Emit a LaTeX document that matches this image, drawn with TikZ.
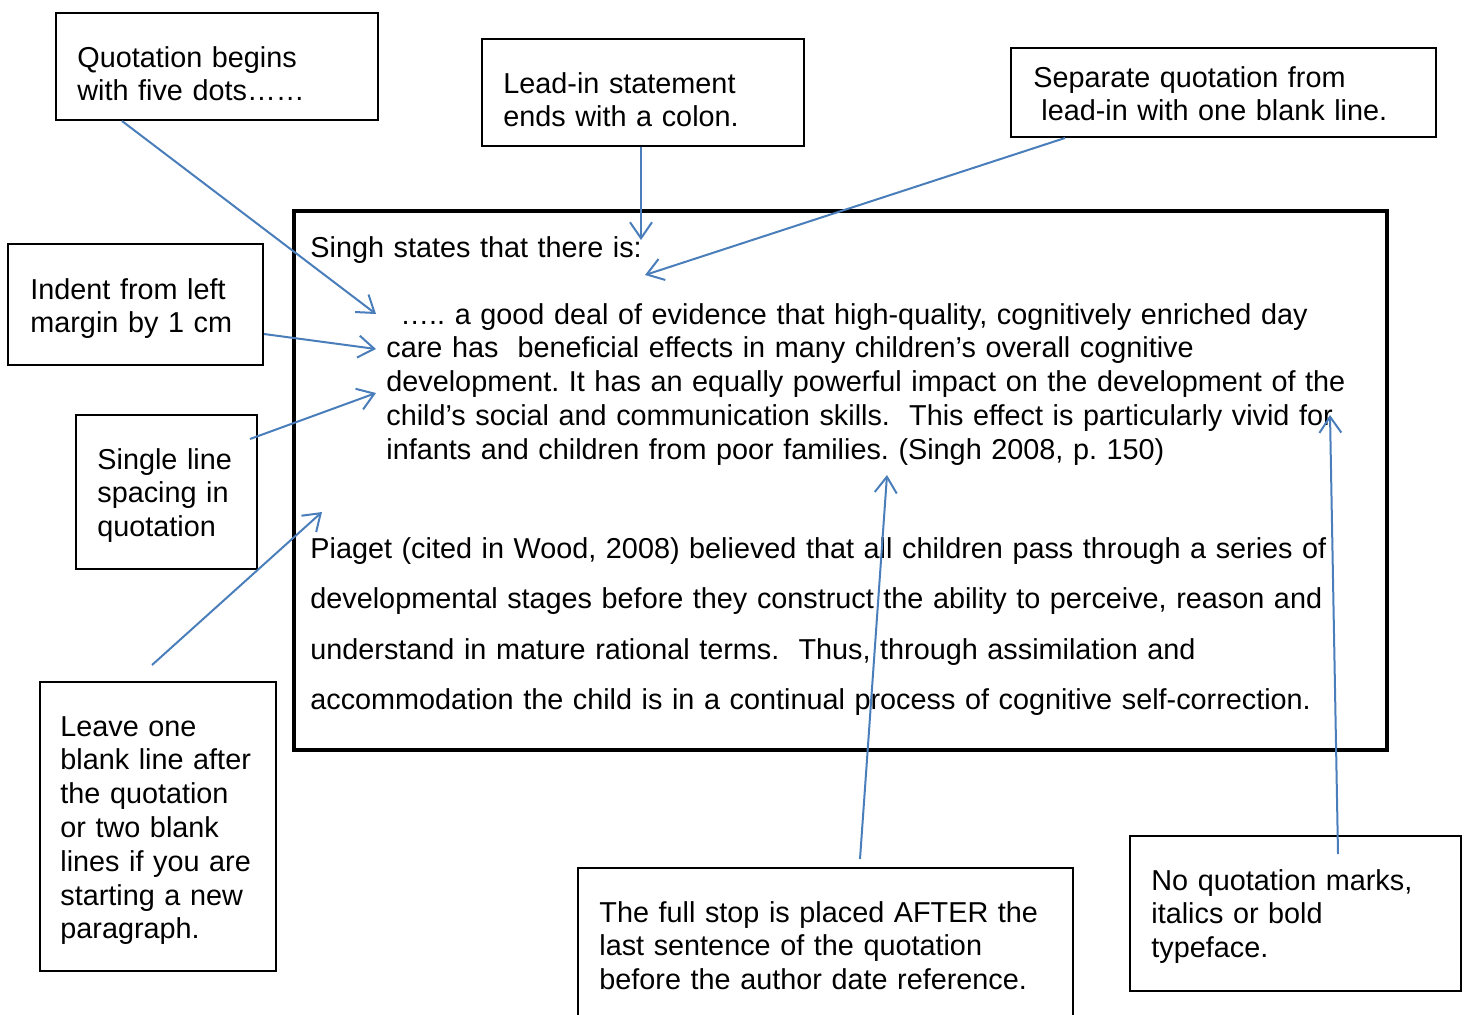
\documentclass[tikz,border=0pt]{standalone}
\usepackage{fontspec}
\setmainfont{Liberation Sans}
\usetikzlibrary{arrows.meta,calc}
\definecolor{arrowblue}{HTML}{4A7EBB}
\frenchspacing
\begin{document}
\frenchspacing
\begin{tikzpicture}[x=0.5pt,y=-0.5pt,
  box/.style={draw=black, line width=1pt, rectangle, inner sep=0pt},
  txt/.style={anchor=base west, inner sep=0pt, align=left, text width=300pt,
    font=\fontsize{14.4pt}{16.9pt}\selectfont},
  conn/.style={draw=arrowblue, line width=1pt, -{Straight Barb[length=8pt,width=11pt]}}]
\useasboundingbox (0,0) rectangle (1465,1014);

% annotation boxes
\node[box, minimum width=161pt, minimum height=53.5pt] (bA) at (217,66.5) {};
\node[txt] (tA) at (77,67) {Quotation begins\\with five dots……};

\node[box, minimum width=161pt, minimum height=53.5pt] (bB) at (643,92.5) {};
\node[txt] (tB) at (503,93) {Lead-in statement\\ends with a colon.};

\node[box, minimum width=212.5pt, minimum height=44.5pt] (bC) at (1223.5,92.5) {};
\node[txt] (tC) at (1033,87) {Separate quotation from\\\hspace*{4pt}lead-in with one blank line.};

\node[box, minimum width=127.5pt, minimum height=60.5pt] (bD) at (135.5,304.5) {};
\node[txt] (tD) at (30,299) {Indent from left\\margin by 1 cm};

\node[box, minimum width=90.5pt, minimum height=77pt] (bE) at (166.5,492) {};
\node[txt] (tE) at (97,469) {Single line\\spacing in\\quotation};

\node[box, minimum width=118pt, minimum height=144.5pt] (bF) at (158,826.5) {};
\node[txt] (tF) at (60,736) {Leave one\\blank line after\\the quotation\\or two blank\\lines if you are\\starting a new\\paragraph.};

\node[box, minimum width=247.5pt, minimum height=75pt] (bG) at (825.5,943) {};
\node[txt] (tG) at (599,922) {The full stop is placed AFTER the\\last sentence of the quotation\\before the author date reference.};

\node[box, minimum width=165.5pt, minimum height=77.5pt] (bH) at (1295.5,913.5) {};
\node[txt] (tH) at (1151,890) {No quotation marks,\\italics or bold\\typeface.};

% main example box
\node[box, line width=2pt, minimum width=546.5pt, minimum height=269.5pt] (main) at (840.5,480.5) {};
\node[txt, text width=520pt] (lead) at (310,257) {Singh states that there is:};
\node[txt, text width=520pt] (quote) at (386,324) {\hspace*{7pt}….. a good deal of evidence that high-quality, cognitively enriched day\\care has\ \ beneficial effects in many children’s overall cognitive\\development. It has an equally powerful impact on the development of the\\child’s social and communication skills.\ \ This effect is particularly vivid for\\infants and children from poor families. (Singh 2008, p. 150)};
\node[txt, text width=540pt, font=\fontsize{14.4pt}{25.3pt}\selectfont] (piaget) at (310,558) {Piaget (cited in Wood, 2008) believed that all children pass through a series of\\developmental stages before they construct the ability to perceive, reason and\\understand in mature rational terms.\ \ Thus, through assimilation and\\accommodation the child is in a continual process of cognitive self-correction.};

% arrow end points
\coordinate (eA) at (376,314);
\coordinate (eB) at (641,240);
\coordinate (eC) at (645,275);
\coordinate (eD) at (376,349);
\coordinate (eE) at (376,393);
\coordinate (eF) at (322,512);
\coordinate (eG) at (887,475);
\coordinate (eH) at (1330,415);

\draw[conn] ($(bA.south west)+(67,0)$) -- (eA);
\draw[conn] ($(bB.south)+(-2,0)$) -- (eB);
\draw[conn] ($(bC.south west)+(55,0)$) -- (eC);
\draw[conn] ($(bD.north east)+(0,91)$) -- (eD);
\draw[conn] ($(bE.north east)+(-8,25)$) -- (eE);
\draw[conn] ($(bF.north west)+(113,-16)$) -- (eF);
\draw[conn] ($(bG.north west)+(283,-8)$) -- (eG);
\draw[conn] ($(bH.north west)+(209,19)$) -- (eH);
\end{tikzpicture}
\end{document}
